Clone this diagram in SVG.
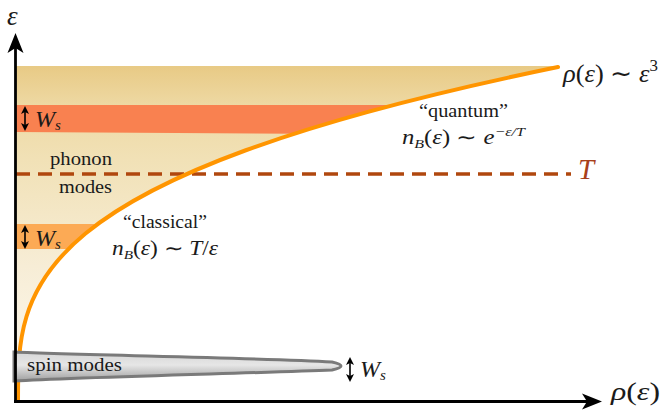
<svg xmlns="http://www.w3.org/2000/svg" width="664" height="412" viewBox="0 0 664 412" font-family="'Liberation Serif', 'Times New Roman', serif">
<style>
text{font-family:'Liberation Serif','Times New Roman',serif;fill:#1a1a1a}
.it{font-style:italic}
.w{font-size:18px}
.m{font-size:20px}
.sub{font-size:13px}
.axis{stroke:#000;stroke-width:2.8;fill:none}
.ws{stroke:#000;stroke-width:1.6;fill:none}
</style>
<defs>
<linearGradient id="bg" gradientUnits="userSpaceOnUse" x1="0" y1="66" x2="0" y2="400">
<stop offset="0" stop-color="#e8ca85"/>
<stop offset="0.12" stop-color="#eed9a4"/>
<stop offset="0.28" stop-color="#f1e1b6"/>
<stop offset="0.6" stop-color="#f7edd6"/>
<stop offset="1" stop-color="#fefbf4"/>
</linearGradient>
<linearGradient id="spin" x1="0" y1="0" x2="0" y2="1">
<stop offset="0" stop-color="#d6d6d6"/>
<stop offset="0.45" stop-color="#e6e6e6"/>
<stop offset="1" stop-color="#a0a0a0"/>
</linearGradient>
<clipPath id="under">
<path d="M16,66 L558,66 L558,67 C18,178 18,289 18,400 L16,400 Z"/>
</clipPath>
<marker id="big" markerUnits="userSpaceOnUse" markerWidth="24" markerHeight="20" viewBox="-10 -10 24 20" refX="0" refY="0" orient="auto" overflow="visible">
<path d="M12,0 L-8,-8 L-3,0 L-8,8 Z" fill="#000"/>
</marker>
<marker id="sm" markerUnits="userSpaceOnUse" markerWidth="12" markerHeight="10" viewBox="-5 -5 12 10" refX="0" refY="0" orient="auto-start-reverse" overflow="visible">
<path d="M5,0 L-3,-4 L-1,0 L-3,4 Z" fill="#000"/>
</marker>
</defs>

<g id="phonon-region">
<path d="M16,66 L558,66 L558,67 C18,178 18,289 18,400 L16,400 Z" fill="url(#bg)"/>
<g clip-path="url(#under)">
<polygon points="16,105 420,105 420,134.5 16,132" fill="#f98150"/>
<rect x="16" y="224" width="110" height="25" fill="#fcaa55"/>
</g>
</g>

<g id="temperature">
<line x1="16" y1="174" x2="571" y2="174" stroke="#b0470e" stroke-width="3.5" stroke-dasharray="14 8"/>
</g>

<g id="dos-curve">
<path d="M18,400 C18,289 18,178 558,67" fill="none" stroke="#ff9500" stroke-width="4" stroke-linecap="round"/>
</g>

<g id="spin-modes">
<path d="M14,352 C80,355 260,358 332,362 Q350,366 332,370 C260,373 80,377 14,381 Z" fill="url(#spin)" stroke="#7a7a7a" stroke-width="3"/>
<text x="27" y="371" class="w" textLength="95" lengthAdjust="spacingAndGlyphs">spin modes</text>
</g>

<g id="axes">
<line class="axis" x1="15.5" y1="403" x2="15.5" y2="45" marker-end="url(#big)"/>
<line class="axis" x1="14" y1="401.5" x2="590" y2="401.5" marker-end="url(#big)"/>
<text x="7" y="25" class="it" font-size="27">ε</text>
<text x="611" y="400" font-size="25" textLength="49" lengthAdjust="spacingAndGlyphs"><tspan class="it">ρ</tspan>(<tspan class="it">ε</tspan>)</text>
</g>

<g id="widths">
<line class="ws" x1="25" y1="111" x2="25" y2="126" marker-start="url(#sm)" marker-end="url(#sm)"/>
<text x="35" y="127" font-size="24"><tspan class="it">W</tspan><tspan class="it" font-size="15" dy="3">s</tspan></text>
<line class="ws" x1="25" y1="230" x2="25" y2="244" marker-start="url(#sm)" marker-end="url(#sm)"/>
<text x="35" y="246" font-size="24"><tspan class="it">W</tspan><tspan class="it" font-size="15" dy="3">s</tspan></text>
<line class="ws" x1="350" y1="362" x2="350" y2="377" marker-start="url(#sm)" marker-end="url(#sm)"/>
<text x="360" y="377" font-size="24"><tspan class="it">W</tspan><tspan class="it" font-size="15" dy="3">s</tspan></text>
</g>

<g id="labels">
<text x="50" y="165" class="w" textLength="62" lengthAdjust="spacingAndGlyphs">phonon</text>
<text x="59" y="193" class="w" textLength="53" lengthAdjust="spacingAndGlyphs">modes</text>
<text x="123" y="228" class="w" textLength="84" lengthAdjust="spacingAndGlyphs">“classical”</text>
<text x="112" y="255" class="m" textLength="106" lengthAdjust="spacingAndGlyphs"><tspan class="it">n</tspan><tspan class="it sub" dy="4">B</tspan><tspan dy="-4">(</tspan><tspan class="it">ε</tspan>) ∼ <tspan class="it">T</tspan>/<tspan class="it">ε</tspan></text>
<text x="419" y="117" class="w" textLength="89" lengthAdjust="spacingAndGlyphs">“quantum”</text>
<text x="402" y="144" class="m" textLength="123" lengthAdjust="spacingAndGlyphs"><tspan class="it">n</tspan><tspan class="it sub" dy="4">B</tspan><tspan dy="-4">(</tspan><tspan class="it">ε</tspan>) ∼ <tspan class="it">e</tspan><tspan class="it sub" dy="-8">−ε/T</tspan></text>
<text x="563" y="82" font-size="25" textLength="95" lengthAdjust="spacingAndGlyphs"><tspan class="it">ρ</tspan>(<tspan class="it">ε</tspan>) ∼ <tspan class="it">ε</tspan><tspan font-size="16" dy="-11">3</tspan></text>
<text x="578" y="179" class="it" font-size="29" style="fill:#a8401a">T</text>
</g>
</svg>
